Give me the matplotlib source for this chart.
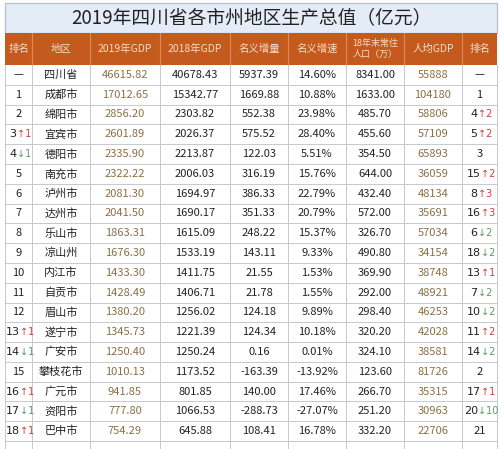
import matplotlib
matplotlib.use("Agg")
import matplotlib.pyplot as plt
from matplotlib.patches import Rectangle

plt.rcParams['font.family'] = ['Noto Sans CJK SC', 'DejaVu Sans']

title = "2019年四川省各市州地区生产总值（亿元）"
headers = ["排名", "地区", "2019年GDP", "2018年GDP", "名义增量", "名义增速", "18年末常住\n人口（万）", "人均GDP", "排名"]
rank = ["—", "1", "2", "3↑1", "4↓1", "5", "6", "7", "8", "9", "10", "11", "12", "13↑1", "14↓1", "15", "16↑1", "17↓1", "18↑1"]
region = ["四川省", "成都市", "绵阳市", "宜宾市", "德阳市", "南充市", "泸州市", "达州市", "乐山市", "凉山州", "内江市", "自贡市", "眉山市", "遂宁市", "广安市", "攀枝花市", "广元市", "资阳市", "巴中市"]
gdp2019 = ["46615.82", "17012.65", "2856.20", "2601.89", "2335.90", "2322.22", "2081.30", "2041.50", "1863.31", "1676.30", "1433.30", "1428.49", "1380.20", "1345.73", "1250.40", "1010.13", "941.85", "777.80", "754.29"]
gdp2018 = ["40678.43", "15342.77", "2303.82", "2026.37", "2213.87", "2006.03", "1694.97", "1690.17", "1615.09", "1533.19", "1411.75", "1406.71", "1256.02", "1221.39", "1250.24", "1173.52", "801.85", "1066.53", "645.88"]
incr = ["5937.39", "1669.88", "552.38", "575.52", "122.03", "316.19", "386.33", "351.33", "248.22", "143.11", "21.55", "21.78", "124.18", "124.34", "0.16", "-163.39", "140.00", "-288.73", "108.41"]
rate = ["14.60%", "10.88%", "23.98%", "28.40%", "5.51%", "15.76%", "22.79%", "20.79%", "15.37%", "9.33%", "1.53%", "1.55%", "9.89%", "10.18%", "0.01%", "-13.92%", "17.46%", "-27.07%", "16.78%"]
pop = ["8341.00", "1633.00", "485.70", "455.60", "354.50", "644.00", "432.40", "572.00", "326.70", "490.80", "369.90", "292.00", "298.40", "320.20", "324.10", "123.60", "266.70", "251.20", "332.20"]
pcgdp = ["55888", "104180", "58806", "57109", "65893", "36059", "48134", "35691", "57034", "34154", "38748", "48921", "46253", "42028", "38581", "81726", "35315", "30963", "22706"]
rank2 = ["—", "1", "4↑2", "5↑2", "3", "15↑2", "8↑3", "16↑3", "6↓2", "18↓2", "13↑1", "7↓2", "10↓2", "11↑2", "14↓2", "2", "17↑1", "20↓10", "21"]

edges = [5, 32, 90, 160, 230, 288, 346, 404, 462, 497]
fig = plt.figure(figsize=(5, 4.49), dpi=100)
ax = fig.add_axes([0, 0, 1, 1])
ax.set_xlim(0, 500); ax.set_ylim(449, 0); ax.axis('off')

ax.add_patch(Rectangle((5, 3), 492, 30, facecolor='#e4edf7', edgecolor='#b8c4d0', lw=1))
ax.text(251, 18, title, ha='center', va='center', fontsize=13.5, color='#222222')
ax.add_patch(Rectangle((5, 33), 492, 32, facecolor='#c45a1e', edgecolor='none'))
for i, h in enumerate(headers):
    cx = (edges[i] + edges[i+1]) / 2
    ax.text(cx, 49, h, ha='center', va='center', fontsize=6.5 if '\n' in h else 7.5,
            color='#f6dcc8', linespacing=1.2)
for e in edges[1:-1]:
    ax.plot([e, e], [33, 65], color='#e08a5a', lw=0.8)

top = 65; rh = (449 - 65) / 19.4
cols = [rank, region, gdp2019, gdp2018, incr, rate, pop, pcgdp, rank2]
gold = '#8a7045'
for r in range(len(region)):
    y0 = top + r * rh
    yc = y0 + rh / 2
    ax.plot([5, 497], [y0 + rh, y0 + rh], color='#c8c8d0', lw=0.7)
    for c, col in enumerate(cols):
        cx = (edges[c] + edges[c+1]) / 2
        s = col[r]
        color = gold if c in (2, 7) else '#222222'
        if ('↑' in s or '↓' in s):
            arr = '↑' if '↑' in s else '↓'
            n, d = s.split(arr)
            acol = '#d04040' if arr == '↑' else '#5a9a6a'
            wn = 6.4 * len(n)
            wr = 4.5 + 5.6 * len(d)
            xa = cx - (wn + wr) / 2 + wn
            ax.text(xa, yc, n, ha='right', va='center', fontsize=8, color='#222222', family='DejaVu Sans')
            ax.text(xa, yc, arr + d, ha='left', va='center', fontsize=7,
                    color=acol, family='DejaVu Sans')
        else:
            ax.text(cx, yc, s, ha='center', va='center', fontsize=8, color=color)
for e in edges:
    ax.plot([e, e], [65, 449], color='#c8c8d0', lw=0.7)

fig.savefig('out.png', dpi=100)
